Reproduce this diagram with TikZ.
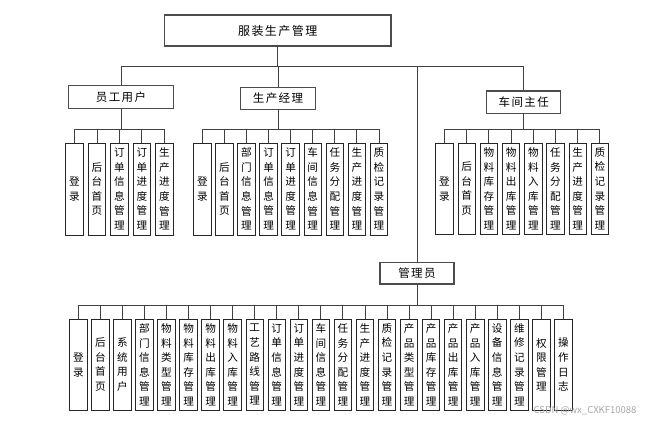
\documentclass[tikz,border=0pt]{standalone}
\usepackage{fontspec}
\setmainfont{Noto Sans CJK SC}
\newfontfamily\headfont[LetterSpace=12]{Noto Sans CJK SC}

\begin{document}
\begin{tikzpicture}[x=1pt,y=-1pt,
  head/.style={draw=black!70,line width=1.2pt,inner sep=0pt,font=\headfont\fontsize{11.5}{13}\selectfont},
  leaf/.style={draw=black!85,line width=0.9pt,inner sep=0pt,minimum width=17.5pt,minimum height=92pt,align=center,font=\fontsize{10.6}{14.6}\selectfont},
  link/.style={black!75,line width=0.9pt}]
  \useasboundingbox (0,0) rectangle (648,422);
  % top and roles
  \node[head,minimum width=226.7pt,minimum height=31pt,font=\headfont\fontsize{12}{14}\selectfont] (root) at (277.7,30.5) {服装生产管理};
  \node[head,minimum width=104.6pt,minimum height=22.6pt] (yg) at (121,97) {员工用户};
  \node[head,minimum width=74.6pt,minimum height=22pt] (scjl) at (278,98.3) {生产经理};
  \node[head,minimum width=74pt,minimum height=22.3pt] (cjzr) at (523.7,102.2) {车间主任};
  \node[head,minimum width=74pt,minimum height=21.7pt] (gly) at (417,273.2) {管理员};
  % employee
  \foreach \t [count=\i] in {登\\录,后\\台\\首\\页,订\\单\\信\\息\\管\\理,订\\单\\进\\度\\管\\理,生\\产\\进\\度\\管\\理}
    \node[leaf] (yg\i) at ({74.5+22.45*(\i-1)},189) {\t};
  % production manager
  \foreach \t [count=\i] in {登\\录,后\\台\\首\\页,部\\门\\信\\息\\管\\理,订\\单\\信\\息\\管\\理,订\\单\\进\\度\\管\\理,车\\间\\信\\息\\管\\理,任\\务\\分\\配\\管\\理,生\\产\\进\\度\\管\\理,质\\检\\记\\录\\管\\理}
    \node[leaf] (scjl\i) at ({202.3+22.09*(\i-1)},189) {\t};
  % workshop director
  \foreach \t [count=\i] in {登\\录,后\\台\\首\\页,物\\料\\库\\存\\管\\理,物\\料\\出\\库\\管\\理,物\\料\\入\\库\\管\\理,任\\务\\分\\配\\管\\理,生\\产\\进\\度\\管\\理,质\\检\\记\\录\\管\\理}
    \node[leaf,minimum height=90.7pt] (cjzr\i) at ({444.5+22.2*(\i-1)},188.7) {\t};
  % administrator
  \foreach \t [count=\i] in {登\\录,后\\台\\首\\页,系\\统\\用\\户,部\\门\\信\\息\\管\\理,物\\料\\类\\型\\管\\理,物\\料\\库\\存\\管\\理,物\\料\\出\\库\\管\\理,物\\料\\入\\库\\管\\理,工\\艺\\路\\线\\管\\理,订\\单\\信\\息\\管\\理,订\\单\\进\\度\\管\\理,车\\间\\信\\息\\管\\理,任\\务\\分\\配\\管\\理,生\\产\\进\\度\\管\\理,质\\检\\记\\录\\管\\理,产\\品\\类\\型\\管\\理,产\\品\\库\\存\\管\\理,产\\品\\出\\库\\管\\理,产\\品\\入\\库\\管\\理,设\\备\\信\\息\\管\\理,维\\修\\记\\录\\管\\理,权\\限\\管\\理,操\\作\\日\\志}
    \node[leaf,minimum height=91.3pt] (gly\i) at ({78.3+22.05*(\i-1)},364.7) {\t};
  % connectors
  \coordinate (topbus) at (0,66.7);
  \coordinate (ygbus) at (0,129.3);
  \coordinate (scjlbus) at (0,129.3);
  \coordinate (cjzrbus) at (0,129.3);
  \coordinate (glybus) at (0,305);
  \foreach \c in {yg,scjl,cjzr,gly}
    \draw[link] (root.south) -- (root.south |- topbus) -| (\c.north);
  \foreach \i in {1,...,5}
    \draw[link] (yg.south) -- (yg.south |- ygbus) -| (yg\i.north);
  \foreach \i in {1,...,9}
    \draw[link] (scjl.south) -- (scjl.south |- scjlbus) -| (scjl\i.north);
  \foreach \i in {1,...,8}
    \draw[link] (cjzr.south) -- (cjzr.south |- cjzrbus) -| (cjzr\i.north);
  \foreach \i in {1,...,23}
    \draw[link] (gly.south) -- (gly.south |- glybus) -| (gly\i.north);
  % watermark
  \node[text=black!35,anchor=east,font=\fontsize{9.5}{9.5}\selectfont] (wm) at (640,411) {CSDN @wx\_CXKF10088};
\end{tikzpicture}
\end{document}
